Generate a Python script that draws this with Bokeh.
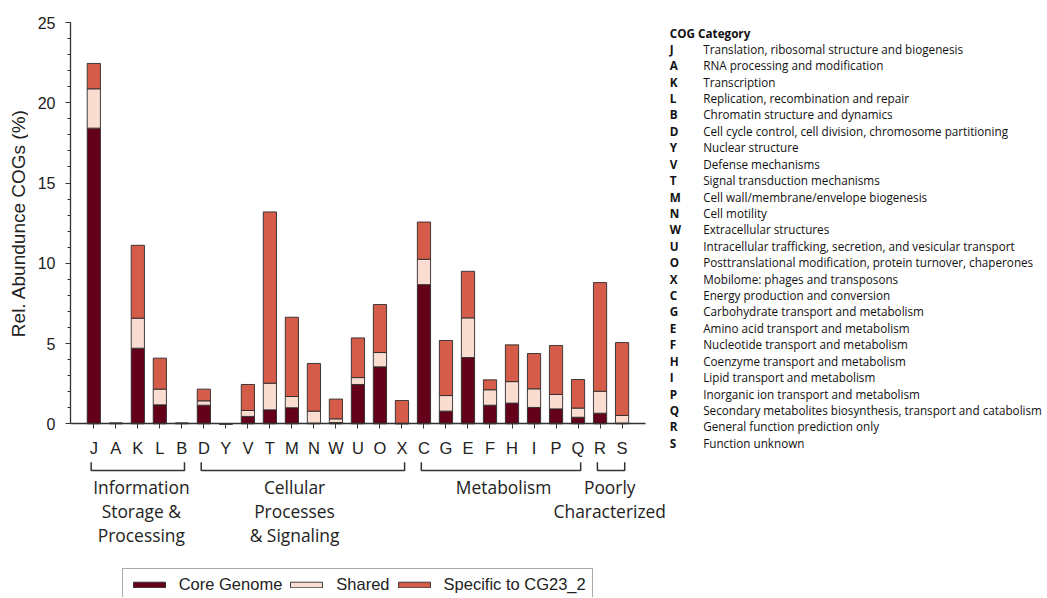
import math
from bokeh.plotting import figure
from bokeh.models import (Range1d, SingleIntervalTicker, FixedTicker, Legend, LegendItem,
                          ColumnDataSource)
from bokeh.layouts import row
from bokeh.embed import file_html
from bokeh.resources import INLINE
from bokeh.core.properties import value

# ---------------- data ----------------
categories = ["J", "A", "K", "L", "B", "D", "Y", "V", "T", "M", "N", "W", "U",
              "O", "X", "C", "G", "E", "F", "H", "I", "P", "Q", "R", "S"]
core = [18.42, 0.02, 4.71, 1.18, 0.02, 1.16, 0.0, 0.46, 0.87, 1.00, 0.04, 0.08, 2.45,
        3.55, 0.01, 8.67, 0.79, 4.13, 1.16, 1.29, 1.02, 0.93, 0.41, 0.66, 0.04]
shared = [2.45, 0.01, 1.87, 0.98, 0.01, 0.27, 0.0, 0.37, 1.66, 0.70, 0.75, 0.23, 0.43,
          0.89, 0.02, 1.58, 0.97, 2.47, 0.96, 1.34, 1.16, 0.90, 0.57, 1.37, 0.48]
specific = [1.58, 0.02, 4.54, 1.93, 0.02, 0.73, 0.0, 1.62, 10.67, 4.94, 2.97, 1.23, 2.47,
            2.99, 1.42, 2.32, 3.43, 2.90, 0.62, 2.29, 2.20, 3.05, 1.78, 6.77, 4.54]
series_names = ["Core Genome", "Shared", "Specific to CG23_2"]
y_title = "Rel. Abundunce COGs (%)"

group_names = ["Information\nStorage &\nProcessing", "Cellular\nProcesses\n& Signaling",
               "Metabolism", "Poorly\nCharacterized"]
group_first = ["J", "D", "C", "R"]
group_last = ["B", "X", "Q", "S"]

cog_header = "COG Category"
cog_desc = [
    "Translation, ribosomal structure and biogenesis",
    "RNA processing and modification",
    "Transcription",
    "Replication, recombination and repair",
    "Chromatin structure and dynamics",
    "Cell cycle control, cell division, chromosome partitioning",
    "Nuclear structure",
    "Defense mechanisms",
    "Signal transduction mechanisms",
    "Cell wall/membrane/envelope biogenesis",
    "Cell motility",
    "Extracellular structures",
    "Intracellular trafficking, secretion, and vesicular transport",
    "Posttranslational modification, protein turnover, chaperones",
    "Mobilome: phages and transposons",
    "Energy production and conversion",
    "Carbohydrate transport and metabolism",
    "Amino acid transport and metabolism",
    "Nucleotide transport and metabolism",
    "Coenzyme transport and metabolism",
    "Lipid transport and metabolism",
    "Inorganic ion transport and metabolism",
    "Secondary metabolites biosynthesis, transport and catabolism",
    "General function prediction only",
    "Function unknown",
]

# ---------------- styles / layout ----------------
colors = ["#64001a", "#fadcd0", "#d65c4a"]
axis_col = "#333333"
text_col = "#222222"
H = 597          # figure height
TOP = 22         # top border (y = 25 line)
W_TITLE = 28     # strip holding the y-axis title
W_MAIN = 640
W_LIST = 379

common = dict(output_backend="svg", toolbar_location=None, outline_line_color=None,
              background_fill_color="white", min_border_top=TOP, min_border_bottom=0)

# y-axis title strip
pt = figure(width=W_TITLE, height=H, x_range=Range1d(0, W_TITLE), y_range=Range1d(H, TOP),
            min_border_left=0, min_border_right=0,
            x_axis_location=None, y_axis_location=None, **common)
pt.xgrid.visible = False
pt.ygrid.visible = False
pt.text(x=[18.3], y=[222.6], text=[y_title], angle=math.pi / 2,
        text_align="center", text_baseline="middle", text_font=value("Liberation Sans"),
        text_font_size="19px", text_color=text_col)

# main chart: category slots at positions 0..n-1 on the x scale
pos = list(range(len(categories)))
p = figure(x_range=Range1d(-1.059, 26.11), y_range=Range1d(-10.82, 25),
           width=W_MAIN, height=H, min_border_left=42, min_border_right=0, **common)

src = ColumnDataSource(dict(pos=pos, cat=categories, core=core, shared=shared, specific=specific))
rs = p.vbar_stack(["core", "shared", "specific"], x="pos", width=0.6, source=src,
                  fill_color=colors, line_color="#2b2b2b", line_width=0.9)

p.xgrid.visible = False
p.ygrid.visible = False

# y axis
ya = p.yaxis[0]
ya.ticker = SingleIntervalTicker(interval=5, num_minor_ticks=5)
ya.bounds = (0, 25)
ya.major_tick_out = 5
ya.major_tick_in = 0
ya.minor_tick_out = 3
ya.minor_tick_in = 0
ya.axis_line_color = axis_col
ya.major_tick_line_color = axis_col
ya.minor_tick_line_color = axis_col
ya.axis_line_width = 1.3
ya.major_label_text_font = "Liberation Sans"
ya.major_label_text_font_size = "16px"
ya.major_label_text_color = text_col
ya.major_label_standoff = 10

# x axis at y = 0, one tick per COG category
xa = p.xaxis[0]
xa.fixed_location = 0
xa.bounds = (-1.059, 25.077)
xa.ticker = FixedTicker(ticks=pos, minor_ticks=[])
xa.major_label_overrides = {i: c for i, c in zip(pos, categories)}
xa.major_tick_out = 5
xa.major_tick_in = 0
xa.minor_tick_line_color = None
xa.axis_line_color = axis_col
xa.major_tick_line_color = axis_col
xa.axis_line_width = 1.3
xa.major_label_text_font = "Liberation Sans"
xa.major_label_text_font_size = "16.5px"
xa.major_label_text_color = text_col
xa.major_label_standoff = 10

# group brackets
xs_b, ys_b, cx = [], [], []
for f, l in zip(group_first, group_last):
    a = categories.index(f) - 0.12
    b = categories.index(l) + 0.12
    xs_b.append([a, a, b, b])
    ys_b.append([-2.40, -2.91, -2.91, -2.40])
    cx.append((a + b) / 2)
p.multi_line(xs_b, ys_b, line_color="#333333", line_width=1.5)

label_nudge = [0.16, -0.38, 0.12, -0.06]
p.text(x=[c + n for c, n in zip(cx, label_nudge)], y=[-3.21] * len(group_names), text=group_names,
       text_align="center", text_baseline="top", text_font=value("Open Sans"),
       text_font_size="17.4px", text_line_height=1.0, text_color=text_col)

legend = Legend(items=[LegendItem(label=n, renderers=[r]) for n, r in zip(series_names, rs)],
                orientation="horizontal", location=(51.7, -4.3),
                label_text_font="Liberation Sans", label_text_font_size="16.5px",
                label_text_color=text_col, glyph_width=40, glyph_height=7,
                label_standoff=10, spacing=4, padding=6, margin=0,
                border_line_color="#555555", border_line_width=1,
                background_fill_color="white", background_fill_alpha=1.0)
p.add_layout(legend)

# ---------------- right-hand COG list ----------------
p2 = figure(x_range=Range1d(0, W_LIST), y_range=Range1d(H, TOP), width=W_LIST, height=H,
            min_border_left=0, min_border_right=0,
            x_axis_location=None, y_axis_location=None, **common)
p2.xgrid.visible = False
p2.ygrid.visible = False

row_y = [48.3 + 16.417 * i for i in range(len(categories))]
p2.text(x=[1.3], y=[32.3], text=[cog_header], text_font=value("Open Sans"),
        text_font_size="11.7px", text_font_style="bold", text_baseline="middle", text_color="#111111")
p2.text(x=[1.3] * len(categories), y=row_y, text=categories, text_font=value("Open Sans"),
        text_font_size="11.7px", text_font_style="bold", text_baseline="middle", text_color="#111111")
p2.text(x=[34.7] * len(cog_desc), y=row_y, text=cog_desc, text_font=value("Open Sans"),
        text_font_size="11.7px", text_baseline="middle", text_color="#111111")

layout = row(pt, p, p2)
open("out.html", "w").write(file_html(layout, INLINE))
